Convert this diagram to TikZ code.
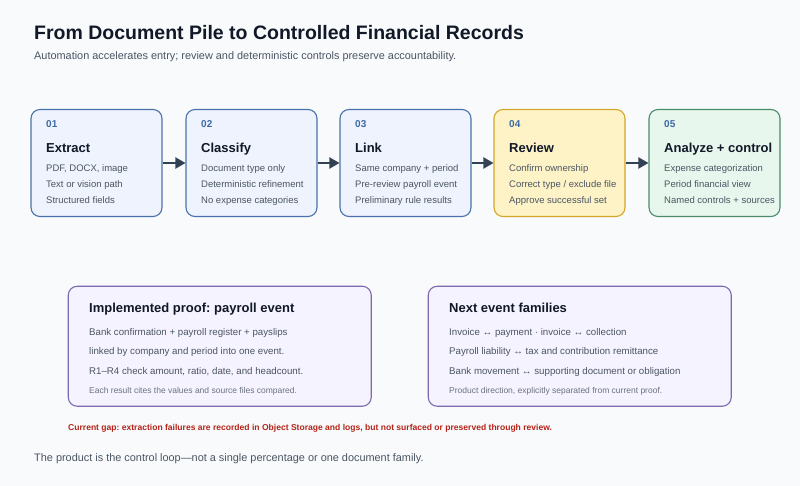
\documentclass[tikz,border=0pt]{standalone}
\usepackage{fontspec}
\setmainfont{Liberation Sans}
\usetikzlibrary{arrows.meta}
\frenchspacing

\definecolor{pagebg}{HTML}{F8FAFC}
\definecolor{ink}{HTML}{111827}
\definecolor{soft}{HTML}{4B5563}
\definecolor{faint}{HTML}{6B7280}
\definecolor{numblue}{HTML}{3D6AA6}
\definecolor{flowc}{HTML}{334155}
\definecolor{gapred}{HTML}{B42318}
\definecolor{blueline}{HTML}{4A72AA}\definecolor{bluefill}{HTML}{EEF3FD}
\definecolor{amberline}{HTML}{D4A62A}\definecolor{amberfill}{HTML}{FEF3C7}
\definecolor{greenline}{HTML}{4A8B6A}\definecolor{greenfill}{HTML}{E8F7EE}
\definecolor{lilacline}{HTML}{7E6AAF}\definecolor{lilacfill}{HTML}{F5F3FF}

\begin{document}
\begin{tikzpicture}[x=1pt,y=-1pt,
  txt/.style={anchor=base west,inner sep=0pt,text=soft},
  stepbox/.style={draw,line width=1.1pt,rounded corners=9pt,minimum width=131pt,minimum height=107pt},
  bluestep/.style={stepbox,draw=blueline,fill=bluefill},
  amberstep/.style={stepbox,draw=amberline,fill=amberfill},
  greenstep/.style={stepbox,draw=greenline,fill=greenfill},
  famibox/.style={draw=lilacline,fill=lilacfill,line width=1.1pt,rounded corners=9pt,minimum width=303pt,minimum height=120pt},
  num/.style={txt,text=numblue,font=\fontsize{10}{12}\selectfont\bfseries},
  head/.style={txt,text=ink,font=\fontsize{13}{15}\selectfont\bfseries},
  item/.style={txt,font=\fontsize{9.5}{11}\selectfont},
  pitem/.style={txt,font=\fontsize{9.7}{11}\selectfont},
  note/.style={txt,text=faint,font=\fontsize{8.5}{10}\selectfont},
  flow/.style={draw=flowc,line width=2pt,-{Triangle[length=10pt,width=11pt]}}]
\fill[pagebg] (0,0) rectangle (800,486);
\useasboundingbox (0,0) rectangle (800,486);

% heading
\node[txt,text=ink,font=\fontsize{19.5}{22}\selectfont\bfseries] (title) at (34,40) {From Document Pile to Controlled Financial Records};
\node[txt,font=\fontsize{10.9}{13}\selectfont] (subtitle) at (34,60) {Automation accelerates entry; review and deterministic controls preserve accountability.};

% pipeline steps
\foreach \i/\x/\s/\t/\a/\b/\c in {
  01/31/bluestep/Extract/{PDF, DOCX, image}/Text or vision path/Structured fields,
  02/186/bluestep/Classify/Document type only/Deterministic refinement/No expense categories,
  03/340/bluestep/Link/Same company + period/Pre-review payroll event/Preliminary rule results,
  04/494/amberstep/Review/Confirm ownership/{Correct type / exclude file}/Approve successful set,
  05/649/greenstep/Analyze + control/Expense categorization/Period financial view/Named controls + sources}{
  \node[\s] (step\i) at (\x+65.5,163) {};
  \node[num] (num\i) at (\x+15,128) {\i};
  \node[head] (head\i) at (\x+15,153) {\t};
  \node[item] (a\i) at (\x+15,172) {\a};
  \node[item] (b\i) at (\x+15,188) {\b};
  \node[item] (c\i) at (\x+15,204) {\c};
}
\foreach \p/\q in {01/02,02/03,03/04,04/05}
  \draw[flow] (step\p) -- (step\q);

% event families
\node[famibox] (proof) at (219.75,346.25) {};
\node[famibox] (next) at (579.75,346.25) {};
\node[head] (proofhead) at (89,312) {Implemented proof: payroll event};
\node[pitem] (proofa) at (89,335) {Bank confirmation + payroll register + payslips};
\node[pitem] (proofb) at (89,354) {linked by company and period into one event.};
\node[pitem] (proofc) at (89,374) {R1–R4 check amount, ratio, date, and headcount.};
\node[note] (proofnote) at (89,393) {Each result cites the values and source files compared.};
\node[head] (nexthead) at (449,312) {Next event families};
\node[pitem] (nexta) at (449,335) {Invoice ↔ payment · invoice ↔ collection};
\node[pitem] (nextb) at (449,354) {Payroll liability ↔ tax and contribution remittance};
\node[pitem] (nextc) at (449,374) {Bank movement ↔ supporting document or obligation};
\node[note] (nextnote) at (449,393) {Product direction, explicitly separated from current proof.};

% footer
\node[txt,text=gapred,font=\fontsize{8.55}{10}\selectfont\bfseries] (gap) at (68,430) {Current gap: extraction failures are recorded in Object Storage and logs, but not surfaced or preserved through review.};
\node[txt,font=\fontsize{10.9}{13}\selectfont] (closing) at (34,461) {The product is the control loop—not a single percentage or one document family.};
\end{tikzpicture}
\end{document}
